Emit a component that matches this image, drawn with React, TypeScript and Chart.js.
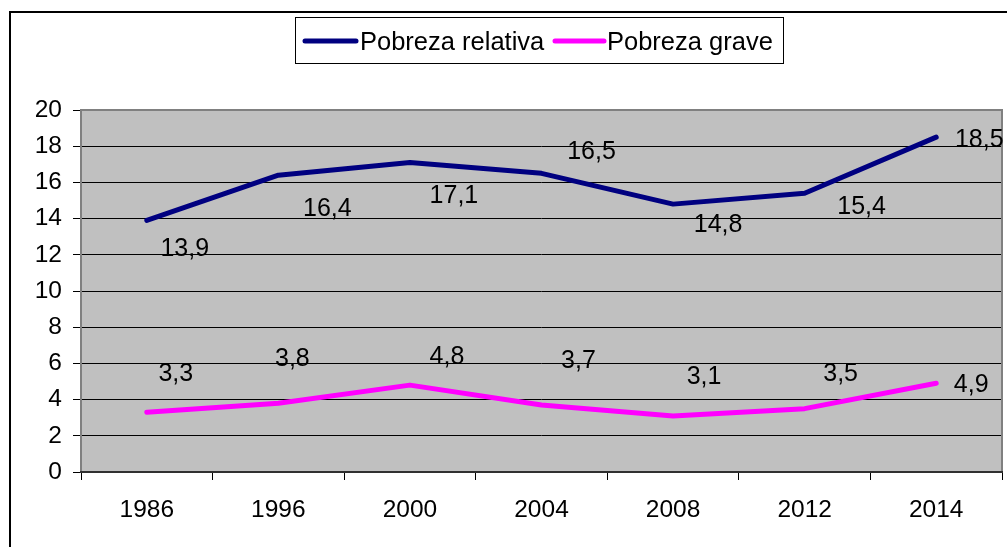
import React, { useEffect, useRef } from "react";
import { Chart, registerables } from "chart.js";

Chart.register(...registerables);

const years = ["1986", "1996", "2000", "2004", "2008", "2012", "2014"];
const relativa = [13.9, 16.4, 17.1, 16.5, 14.8, 15.4, 18.5];
const grave = [3.3, 3.8, 4.8, 3.7, 3.1, 3.5, 4.9];
const seriesNames = ["Pobreza relativa", "Pobreza grave"];
const yMin = 0;
const yMax = 20;
const yStep = 2;

// label placement offsets (pixels from the point, label centre)
const relLabelOffsets = [[38, 27], [49, 32], [44, 32], [50, -23], [45, 19], [57, 12], [43, 1]];
const graveLabelOffsets = [[29, -40], [14, -46], [37, -30], [37, -46], [31, -41], [36, -37], [35, 0]];

const FONT = '"Liberation Sans", Arial, Helvetica, sans-serif';
const NAVY = "#000080";
const MAGENTA = "#FF00FF";

const decorPlugin = {
  id: "decor",
  beforeDraw(chart: any) {
    const { ctx, width, height, chartArea } = chart;
    ctx.save();
    ctx.fillStyle = "#ffffff";
    ctx.fillRect(0, 0, width, height);
    ctx.strokeStyle = "#000000";
    ctx.lineWidth = 2;
    ctx.beginPath();
    ctx.moveTo(10, height + 5);
    ctx.lineTo(10, 12);
    ctx.lineTo(width + 5, 12);
    ctx.stroke();
    ctx.fillStyle = "#C0C0C0";
    ctx.fillRect(chartArea.left, chartArea.top, chartArea.right - chartArea.left, chartArea.bottom - chartArea.top);
    ctx.restore();
  },
  beforeDatasetsDraw(chart: any) {
    const { ctx, chartArea } = chart;
    ctx.save();
    ctx.lineWidth = 2;
    ctx.strokeStyle = "#808080";
    ctx.beginPath();
    ctx.moveTo(chartArea.left, chartArea.bottom);
    ctx.lineTo(chartArea.left, chartArea.top);
    ctx.lineTo(chartArea.right, chartArea.top);
    ctx.lineTo(chartArea.right, chartArea.bottom);
    ctx.stroke();
    ctx.strokeStyle = "#303030";
    ctx.beginPath();
    ctx.moveTo(chartArea.left - 1, chartArea.bottom);
    ctx.lineTo(chartArea.right + 1, chartArea.bottom);
    ctx.stroke();
    ctx.restore();
  },
  afterDatasetsDraw(chart: any) {
    const { ctx } = chart;
    ctx.save();
    ctx.fillStyle = "#000000";
    ctx.font = `25px ${FONT}`;
    ctx.textAlign = "center";
    ctx.textBaseline = "alphabetic";
    const offsets = [relLabelOffsets, graveLabelOffsets];
    chart.data.datasets.forEach((ds: any, di: number) => {
      const meta = chart.getDatasetMeta(di);
      meta.data.forEach((pt: any, i: number) => {
        const v = ds.data[i];
        const txt = v.toFixed(1).replace(".", ",");
        const [dx, dy] = offsets[di][i];
        ctx.fillText(txt, pt.x + dx, pt.y + dy + 9);
      });
    });
    ctx.restore();
  },
  afterDraw(chart: any) {
    const { ctx } = chart;
    ctx.save();
    ctx.fillStyle = "#ffffff";
    ctx.fillRect(295.5, 17.5, 488, 46);
    ctx.strokeStyle = "#000000";
    ctx.lineWidth = 1;
    ctx.strokeRect(295.5, 17.5, 488, 46);
    const items = [
      { x0: 305, x1: 356, tx: 360, color: NAVY },
      { x0: 555, x1: 604, tx: 607, color: MAGENTA },
    ];
    items.forEach((it, i) => {
      ctx.strokeStyle = it.color;
      ctx.lineWidth = 5;
      ctx.lineCap = "round";
      ctx.beginPath();
      ctx.moveTo(it.x0, 41);
      ctx.lineTo(it.x1, 41);
      ctx.stroke();
      ctx.fillStyle = "#000000";
      ctx.font = `25.5px ${FONT}`;
      ctx.textAlign = "left";
      ctx.textBaseline = "alphabetic";
      ctx.fillText(seriesNames[i], it.tx, 49.5);
    });
    ctx.restore();
  },
};

export default function App() {
  const ref = useRef<HTMLCanvasElement | null>(null);
  useEffect(() => {
    document.body.style.margin = "0";
    const canvas = ref.current!;
    const chart = new Chart(canvas, {
      type: "line",
      data: {
        labels: years,
        datasets: [
          {
            label: seriesNames[0],
            data: relativa,
            borderColor: NAVY,
            backgroundColor: NAVY,
            borderWidth: 5,
            pointRadius: 0,
            tension: 0,
            borderCapStyle: "round",
            borderJoinStyle: "round",
          },
          {
            label: seriesNames[1],
            data: grave,
            borderColor: MAGENTA,
            backgroundColor: MAGENTA,
            borderWidth: 5,
            pointRadius: 0,
            tension: 0,
            borderCapStyle: "round",
            borderJoinStyle: "round",
          },
        ],
      },
      options: {
        responsive: false,
        animation: false,
        devicePixelRatio: 1,
        layout: { padding: { left: 0, right: 5, top: 110, bottom: 0 } },
        plugins: {
          legend: { display: false },
          tooltip: { enabled: false },
          title: { display: false },
        },
        scales: {
          x: {
            type: "category",
            offset: true,
            grid: {
              offset: true,
              drawOnChartArea: false,
              drawTicks: true,
              tickLength: 8,
              color: "#000000",
              lineWidth: 1,
            },
            border: { display: false },
            ticks: {
              color: "#000000",
              font: { size: 24.5, family: FONT },
              padding: 16,
              maxRotation: 0,
              autoSkip: false,
            },
            afterFit(scale: any) {
              scale.height = 75;
            },
          },
          y: {
            min: yMin,
            max: yMax,
            grid: {
              drawTicks: true,
              tickLength: 8,
              color: "#000000",
              lineWidth: 1,
            },
            border: { display: false },
            ticks: {
              stepSize: yStep,
              color: "#000000",
              font: { size: 24.5, family: FONT },
              padding: 11,
            },
            afterFit(scale: any) {
              scale.width = 81;
            },
          },
        },
      },
      plugins: [decorPlugin],
    } as any);
    return () => chart.destroy();
  }, []);
  return (
    <div style={{ position: "absolute", left: 0, top: 0, width: 1007, height: 547 }}>
      <canvas ref={ref} width={1007} height={547} />
    </div>
  );
}
